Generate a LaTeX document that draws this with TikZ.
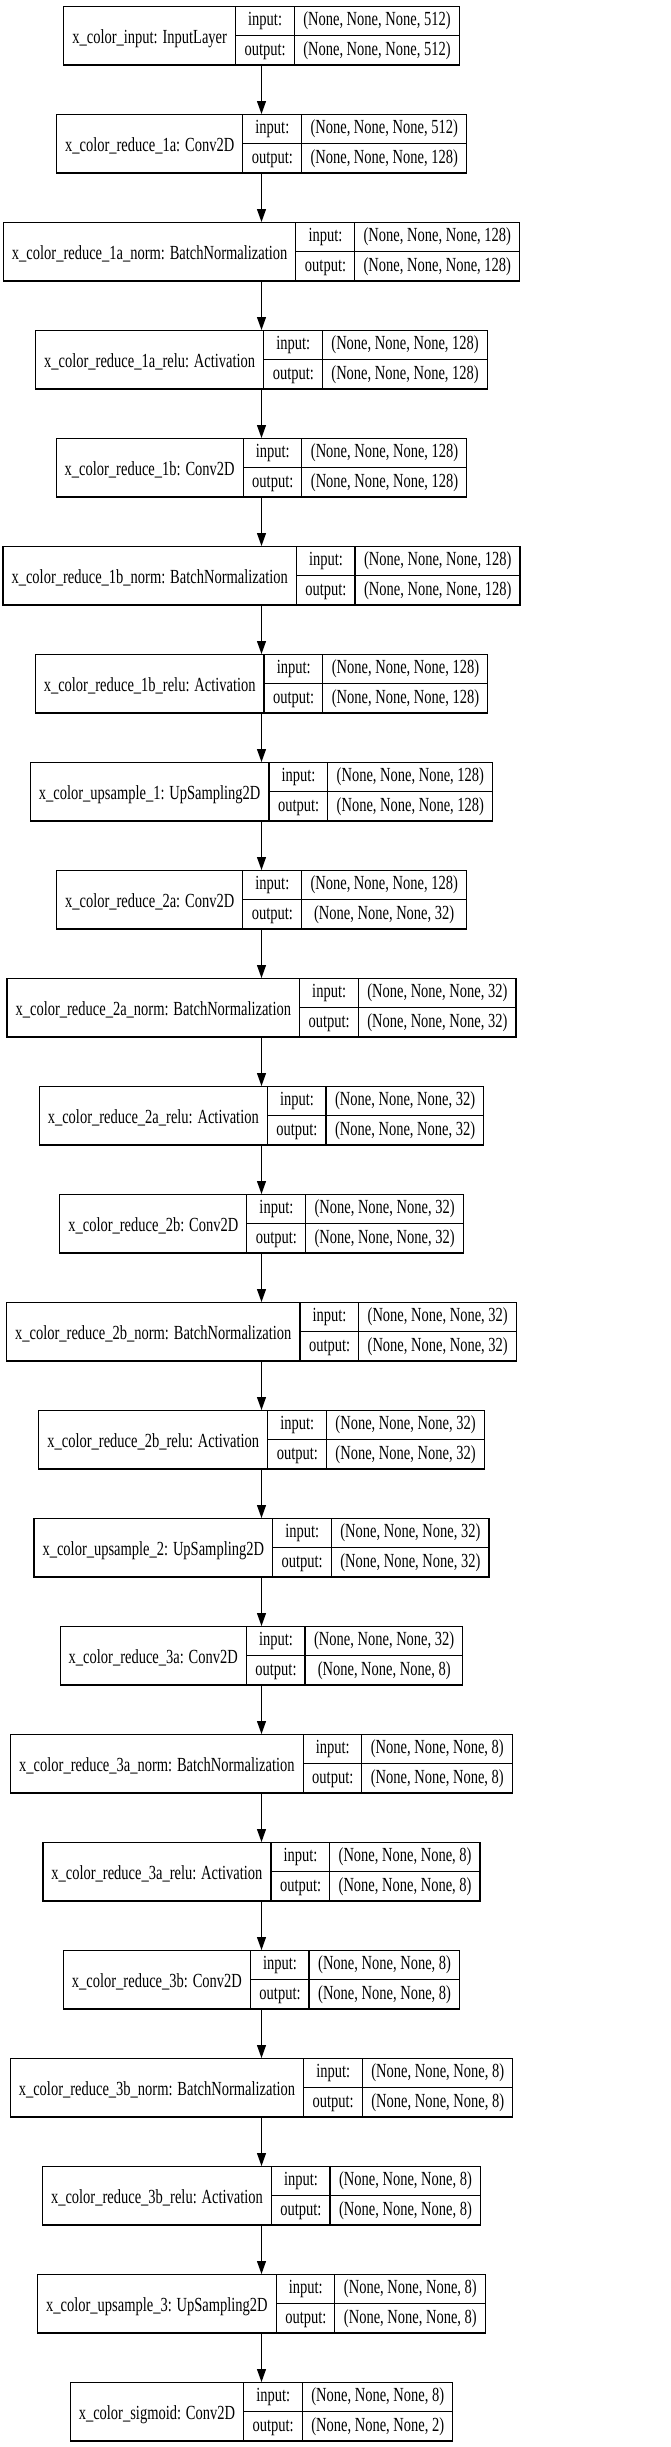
\documentclass[tikz,border=0pt]{standalone}
\usepackage{fontspec}
\setmainfont{Liberation Serif}[FakeStretch=0.725]
\usetikzlibrary{arrows.meta}

\newcommand\lfont{\fontsize{20}{24}\selectfont}
\setlength\tabcolsep{8.5pt}
\setlength\arrayrulewidth{1.2pt}
\renewcommand\arraystretch{0.5}
\newcommand\rowstrut{\rule[-10pt]{0pt}{28.6pt}}
% name | input:/output: | shapes
\newcommand\record[3]{%
  \begin{tabular}{@{\hspace{8.5pt}}c@{\hspace{8.5pt}}|@{}c@{}|@{}c@{}}
    \raisebox{-2.5pt}{#1} &
    \begin{tabular}{c} input:\rowstrut \\ \hline output:\rowstrut \end{tabular} &
    \begin{tabular}{c} (None, None, None, #2)\rowstrut \\ \hline (None, None, None, #3)\rowstrut \end{tabular}
  \end{tabular}}

\tikzset{
  record/.style={draw, line width=1.2pt, inner sep=0pt, anchor=north, font=\lfont},
  flow/.style={line width=1.1pt, -{Triangle[length=13pt,width=9pt]}}
}

\begin{document}
\begin{tikzpicture}[x=1pt,y=1pt]
  \useasboundingbox (0,0) rectangle (671,-2447);

  % one record per layer
  \foreach \nm/\si/\so [count=\i from 0] in {
      x\_color\_input: InputLayer/512/512,
      x\_color\_reduce\_1a: Conv2D/512/128,
      x\_color\_reduce\_1a\_norm: BatchNormalization/128/128,
      x\_color\_reduce\_1a\_relu: Activation/128/128,
      x\_color\_reduce\_1b: Conv2D/128/128,
      x\_color\_reduce\_1b\_norm: BatchNormalization/128/128,
      x\_color\_reduce\_1b\_relu: Activation/128/128,
      x\_color\_upsample\_1: UpSampling2D/128/128,
      x\_color\_reduce\_2a: Conv2D/128/32,
      x\_color\_reduce\_2a\_norm: BatchNormalization/32/32,
      x\_color\_reduce\_2a\_relu: Activation/32/32,
      x\_color\_reduce\_2b: Conv2D/32/32,
      x\_color\_reduce\_2b\_norm: BatchNormalization/32/32,
      x\_color\_reduce\_2b\_relu: Activation/32/32,
      x\_color\_upsample\_2: UpSampling2D/32/32,
      x\_color\_reduce\_3a: Conv2D/32/8,
      x\_color\_reduce\_3a\_norm: BatchNormalization/8/8,
      x\_color\_reduce\_3a\_relu: Activation/8/8,
      x\_color\_reduce\_3b: Conv2D/8/8,
      x\_color\_reduce\_3b\_norm: BatchNormalization/8/8,
      x\_color\_reduce\_3b\_relu: Activation/8/8,
      x\_color\_upsample\_3: UpSampling2D/8/8,
      x\_color\_sigmoid: Conv2D/8/2}
    \node[record] (l\i) at (261.5,{-6-108*\i}) {\record{\nm}{\si}{\so}};

  % connectors
  \foreach \i [evaluate=\i as \j using int(\i+1)] in {0,...,21}
    \draw[flow] (l\i.south) -- (l\j.north);
\end{tikzpicture}
\end{document}
